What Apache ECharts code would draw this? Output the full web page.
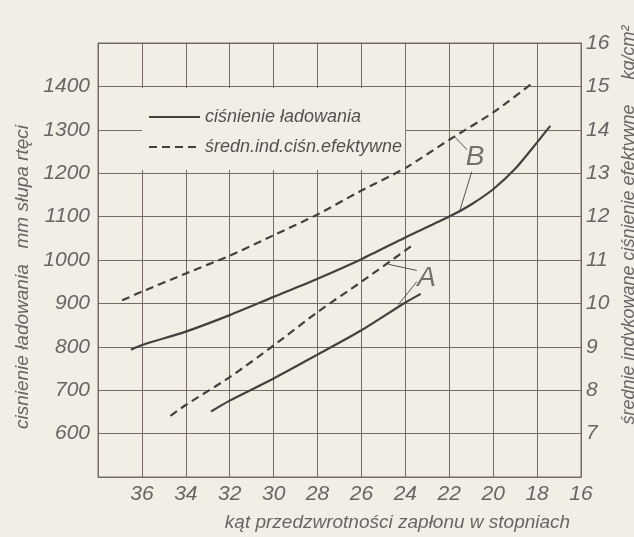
<!DOCTYPE html>
<html>
<head>
<meta charset="utf-8">
<script src="https://cdn.jsdelivr.net/npm/echarts@6/dist/echarts.min.js"></script>
<style>
html, body { margin: 0; padding: 0; background: #f1eee5; }
#chart { width: 634px; height: 537px; }
</style>
</head>
<body>
<div id="chart"></div>
<script>
// kąt wyprzedzenia zapłonu [stopnie] -> ciśnienie ładowania [mm Hg] (lewa oś)
var chargeB = [[36.5, 793], [36, 804], [34, 835], [32, 873], [30, 915], [28, 957], [26, 1002],
               [24, 1052], [22, 1100], [21, 1128], [20, 1163], [19, 1210], [18, 1271], [17.4, 1309]];
var chargeA = [[32.85, 651], [32, 676], [30, 727], [28, 782], [26, 838], [24, 902], [23.3, 922]];
// średnie indykowane ciśnienie efektywne [kg/cm2] (prawa oś)
var mepB = [[36.9, 10.07], [36, 10.27], [34, 10.69], [32, 11.1], [30, 11.57], [28, 12.05], [26, 12.6],
            [24, 13.12], [22, 13.77], [20, 14.4], [18.2, 15.08]];
var mepA = [[34.7, 7.41], [34, 7.66], [32, 8.3], [30, 9.03], [28, 9.8], [26, 10.5], [24, 11.22], [23.68, 11.34]];

var xTicks = [16, 38, 2];          // min, max, krok
var leftTicks = [500, 1500, 100];
var rightTicks = [6, 16, 1];

// opisy krzywych A / B i linie odniesienia (w jednostkach lewej osi)
var tags = [[20.82, 1237, 'B'], [23.03, 958, 'A']];
var leaders = [
    [[21.74, 1283], [21.19, 1254]],
    [[20.98, 1203], [21.51, 1115]],
    [[24.77, 990], [23.48, 976]],
    [[23.48, 950], [24.32, 897]]
];

var legendNames = ['ciśnienie ładowania', 'średn.ind.ciśn.efektywne'];

var bg = '#f1eee5';
var ink = '#454040';
var gridColor = '#76696a';
var textColor = '#6a6564';
var font = 'Liberation Sans, Arial, sans-serif';

var chart = echarts.init(document.getElementById('chart'));

var labelStyle = { fontFamily: font, fontStyle: 'italic', fontSize: 21, color: textColor };

function curve(name, axis, data, dashed) {
    return {
        name: name, type: 'line', yAxisIndex: axis, data: data,
        smooth: 0.25, symbol: 'none',
        lineStyle: { color: ink, width: 2.2, type: dashed ? [8, 5] : 'solid' },
        itemStyle: { color: ink }
    };
}

var option = {
    backgroundColor: bg,
    animation: false,
    grid: {
        left: 98, right: 53, top: 43, bottom: 60,
        outerBoundsMode: 'none',
        show: true, borderColor: gridColor, borderWidth: 1
    },
    legend: {
        data: legendNames,
        orient: 'vertical',
        left: 142, top: 88,
        itemWidth: 51, itemHeight: 14, itemGap: 12, itemTextGap: 8,
        padding: [20, 3, 14, 6],
        backgroundColor: bg,
        itemStyle: { opacity: 0 },
        textStyle: { fontFamily: font, fontStyle: 'italic', fontSize: 18, color: '#55504e' }
    },
    xAxis: {
        type: 'value', inverse: true,
        min: xTicks[0], max: xTicks[1], interval: xTicks[2],
        name: 'kąt przedzwrotności zapłonu w stopniach',
        nameLocation: 'middle', nameGap: 36,
        nameTextStyle: { fontFamily: font, fontStyle: 'italic', fontSize: 19, color: textColor, padding: [0, 0, 0, 116] },
        axisLine: { lineStyle: { color: gridColor, width: 1 } },
        axisTick: { show: false },
        axisLabel: Object.assign({ margin: 7, formatter: function (v) { return v === xTicks[1] ? '' : v; } }, labelStyle),
        splitLine: { show: true, lineStyle: { color: gridColor, width: 1 } }
    },
    yAxis: [{
        type: 'value',
        min: leftTicks[0], max: leftTicks[1], interval: leftTicks[2],
        name: 'cisnienie ładowania   mm słupa rtęci',
        nameLocation: 'middle', nameGap: 50,
        nameTextStyle: { fontFamily: font, fontStyle: 'italic', fontSize: 19, color: textColor, padding: [0, 34, 0, 0] },
        axisLine: { show: true, lineStyle: { color: gridColor } },
        axisTick: { show: false },
        axisLabel: Object.assign({ margin: 8, formatter: function (v) {
            return (v === leftTicks[0] || v === leftTicks[1]) ? '' : v; } }, labelStyle),
        splitLine: { show: true, lineStyle: { color: gridColor, width: 1 } }
    }, {
        type: 'value', position: 'right',
        min: rightTicks[0], max: rightTicks[1], interval: rightTicks[2],
        name: 'średnie indykowane ciśnienie efektywne     kg/cm²',
        nameLocation: 'middle', nameGap: 36,
        nameTextStyle: { fontFamily: font, fontStyle: 'italic', fontSize: 18, color: textColor, padding: [0, 0, 0, 70] },
        axisLine: { show: true, lineStyle: { color: gridColor } },
        axisTick: { show: false },
        axisLabel: Object.assign({ margin: 5, formatter: function (v) {
            return v === rightTicks[0] ? '' : v; } }, labelStyle),
        splitLine: { show: false }
    }],
    series: [
        curve(legendNames[0], 0, chargeB, false),
        curve(legendNames[0], 0, chargeA, false),
        curve(legendNames[1], 1, mepB, true),
        curve(legendNames[1], 1, mepA, true),
        {
            name: 'opis', type: 'scatter', yAxisIndex: 0, data: tags,
            symbolSize: 0, silent: true,
            label: {
                show: true, position: 'inside',
                formatter: function (p) { return p.value[2]; },
                fontFamily: font, fontStyle: 'italic', fontSize: 28, color: '#55504e'
            },
            markLine: {
                silent: true, symbol: ['none', 'none'],
                label: { show: false },
                lineStyle: { color: '#55504e', width: 1, type: 'solid' },
                data: leaders.map(function (s) { return [{ coord: s[0] }, { coord: s[1] }]; })
            }
        }
    ]
};

chart.setOption(option);
</script>
</body>
</html>
